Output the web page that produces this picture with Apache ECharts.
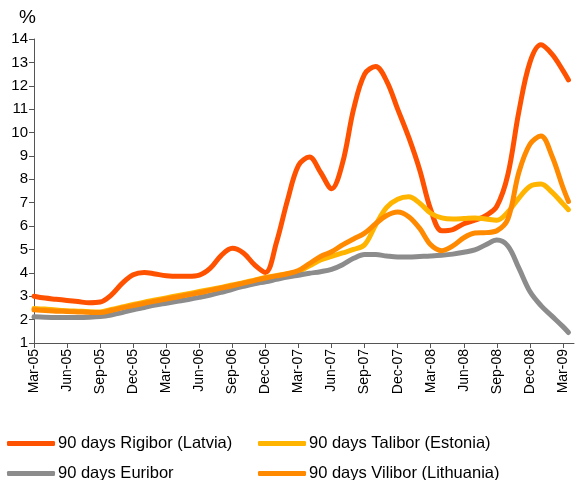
<!DOCTYPE html>
<html>
<head>
<meta charset="utf-8">
<script src="https://cdn.jsdelivr.net/npm/echarts@6/dist/echarts.min.js"></script>
<style>
  html, body { margin: 0; padding: 0; background: #fff; }
  #chart { width: 576px; height: 480px; }
</style>
</head>
<body>
<div id="chart"></div>
<script>
'use strict';

// month offsets from Mar-05 (last reading is mid April 2009)
var monthIdx = [0, 1, 2, 3, 4, 5, 6, 7, 8, 9, 10, 11, 12, 13, 14, 15, 16, 17, 18, 19, 20, 21, 22, 23, 24,
    25, 26, 27, 28, 29, 30, 31, 32, 33, 34, 35, 36, 37, 38, 39, 40, 41, 42, 43, 44, 45, 46, 47, 48, 48.5];

var tickLabels = ['Mar-05', 'Jun-05', 'Sep-05', 'Dec-05', 'Mar-06', 'Jun-06', 'Sep-06', 'Dec-06', 'Mar-07',
    'Jun-07', 'Sep-07', 'Dec-07', 'Mar-08', 'Jun-08', 'Sep-08', 'Dec-08', 'Mar-09'];

var rigibor = [3.0, 2.92, 2.87, 2.82, 2.77, 2.72, 2.75, 3.05, 3.55, 3.92, 4.02, 3.95, 3.88, 3.85, 3.85, 3.9,
    4.2, 4.75, 5.05, 4.85, 4.35, 4.02, 5.3, 7.1, 8.6, 8.95, 8.3, 7.6, 8.7, 11.0, 12.5, 12.82, 12.2, 11.0,
    9.8, 8.4, 6.7, 5.8, 5.85, 6.1, 6.25, 6.45, 6.85, 8.2, 10.9, 13.0, 13.75, 13.35, 12.65, 12.25];

var talibor = [2.48, 2.45, 2.41, 2.38, 2.36, 2.34, 2.33, 2.43, 2.54, 2.65, 2.75, 2.84, 2.93, 3.02, 3.11, 3.2,
    3.29, 3.38, 3.48, 3.58, 3.69, 3.8, 3.88, 3.96, 4.05, 4.3, 4.55, 4.7, 4.85, 5.0, 5.2, 6.05, 6.8, 7.15,
    7.25, 6.98, 6.55, 6.35, 6.3, 6.32, 6.35, 6.3, 6.25, 6.6, 7.2, 7.7, 7.8, 7.45, 6.95, 6.7];

var euribor = [2.12, 2.1, 2.09, 2.09, 2.09, 2.1, 2.13, 2.2, 2.3, 2.42, 2.52, 2.62, 2.7, 2.78, 2.86, 2.95,
    3.05, 3.17, 3.3, 3.42, 3.53, 3.62, 3.72, 3.82, 3.9, 3.98, 4.05, 4.15, 4.35, 4.62, 4.78, 4.78, 4.72, 4.68,
    4.68, 4.7, 4.72, 4.75, 4.8, 4.88, 4.98, 5.2, 5.4, 5.15, 4.2, 3.2, 2.6, 2.15, 1.7, 1.45];

var vilibor = [2.42, 2.39, 2.36, 2.35, 2.33, 2.31, 2.3, 2.39, 2.5, 2.6, 2.7, 2.79, 2.88, 2.97, 3.06, 3.15,
    3.25, 3.35, 3.45, 3.56, 3.67, 3.78, 3.87, 3.96, 4.1, 4.4, 4.7, 4.9, 5.2, 5.45, 5.7, 6.1, 6.45, 6.6,
    6.4, 5.9, 5.2, 4.95, 5.15, 5.5, 5.7, 5.72, 5.8, 6.3, 8.3, 9.5, 9.85, 9.0, 7.65, 7.05];

var names = ['90 days Rigibor (Latvia)', '90 days Talibor (Estonia)', '90 days Euribor', '90 days Vilibor (Lithuania)'];
var colors = ['#ff5200', '#ffb400', '#8c8c8c', '#ff8a00'];
var values = [rigibor, talibor, euribor, vilibor];

function pairs(vals) {
    return vals.map((v, i) => [monthIdx[i], v]);
}

var tickPos = tickLabels.map((t, i) => i * 3);
var font = 'Arial, "Liberation Sans", sans-serif';

function legendCol(items, left) {
    return {
        data: items, orient: 'vertical', left: left, top: 435, height: 120, itemGap: 13,
        itemWidth: 48, itemHeight: 5, icon: 'roundRect', padding: 0,
        textStyle: {fontSize: 16.5, fontFamily: font, color: '#000', padding: [0, 0, 0, -2]}
    };
}

var chart = echarts.init(document.getElementById('chart'));
var option = {
    animation: false,
    grid: {left: 34, right: 2, top: 39, bottom: 137},
    xAxis: {
        type: 'value', min: 0, max: 49,
        axisLine: {lineStyle: {color: '#555', width: 1}},
        axisTick: {show: true, length: 5, customValues: tickPos, lineStyle: {color: '#555'}},
        splitLine: {show: false},
        axisLabel: {
            customValues: tickPos, rotate: 90, margin: 6,
            color: '#000', fontSize: 14, fontFamily: font,
            formatter: v => tickLabels[Math.round(v / 3)] || ''
        }
    },
    yAxis: {
        type: 'value', min: 1, max: 14, interval: 1,
        name: '%', nameLocation: 'end', nameGap: 12,
        nameTextStyle: {color: '#000', fontSize: 19, fontFamily: font, align: 'right', padding: [0, -2, 0, 0]},
        axisLine: {show: true, lineStyle: {color: '#555', width: 1}},
        axisTick: {show: true, length: 5, lineStyle: {color: '#555'}},
        splitLine: {show: false},
        axisLabel: {color: '#000', fontSize: 15, fontFamily: font, margin: 6}
    },
    legend: [legendCol([names[0], names[2]], 7), legendCol([names[1], names[3]], 258)],
    series: names.map((n, i) => ({
        name: n, type: 'line', data: pairs(values[i]),
        smooth: 0.35, showSymbol: false, symbol: 'none',
        color: colors[i],
        lineStyle: {width: 5, color: colors[i], cap: 'round', join: 'round'}
    }))
};
chart.setOption(option);
</script>
</body>
</html>
